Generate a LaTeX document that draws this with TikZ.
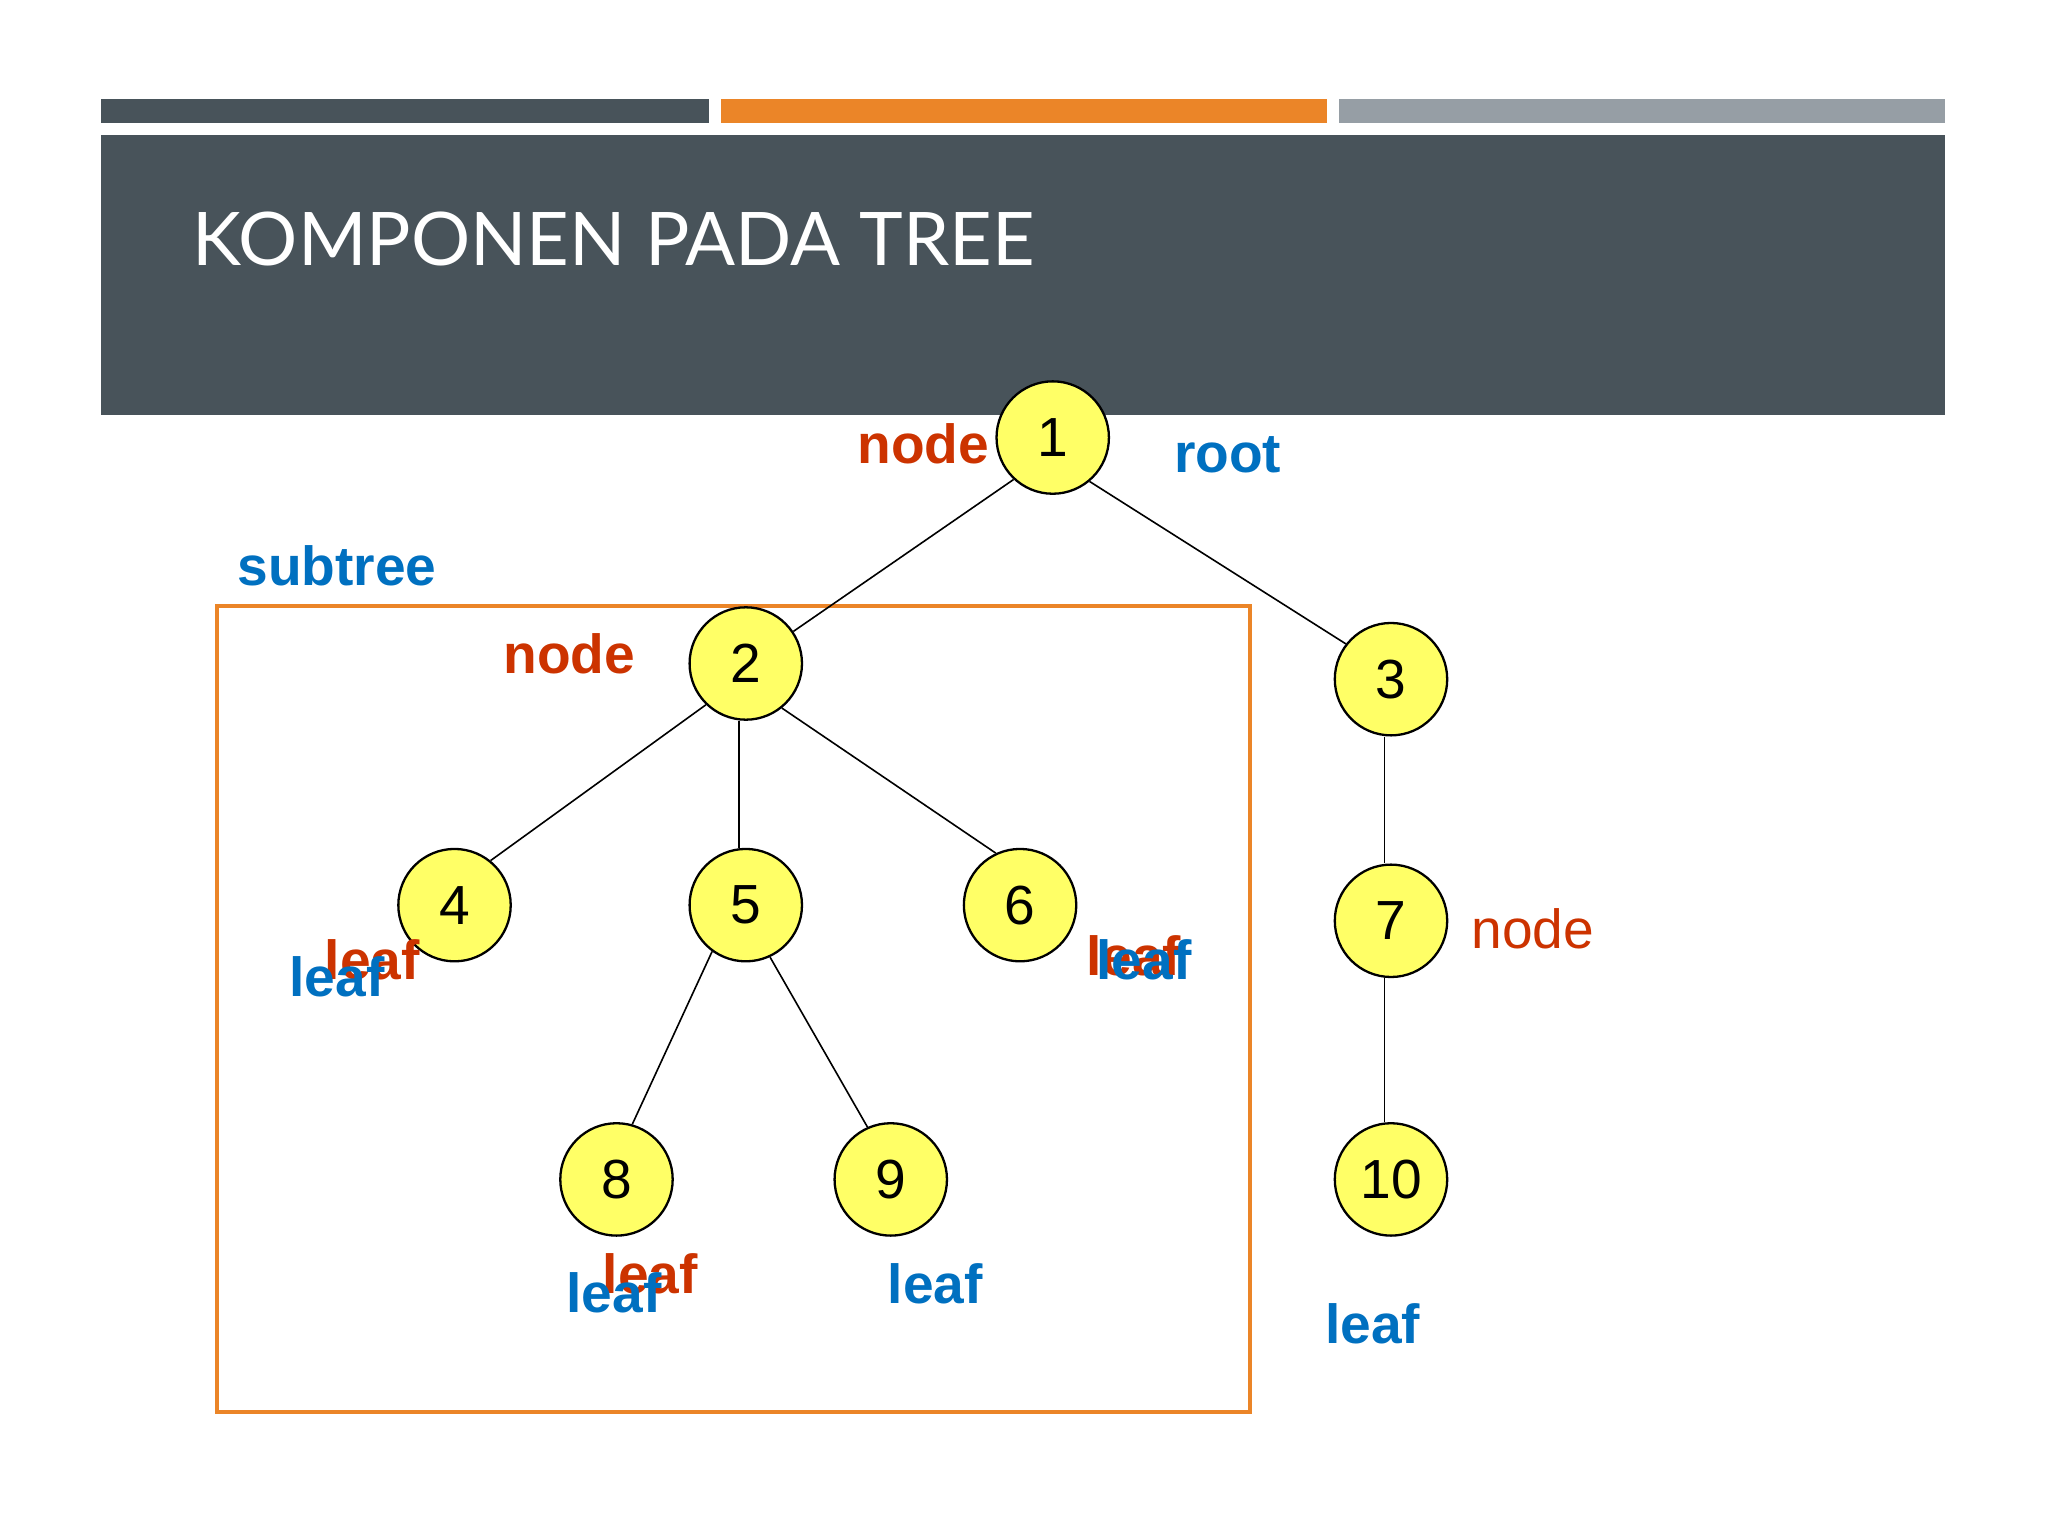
\documentclass[tikz,border=0pt]{standalone}
\usepackage{fontspec}
\setmainfont{Liberation Sans}
\newfontfamily\titlefont{Lato}
\usetikzlibrary{positioning}

\definecolor{slate}{HTML}{48535A}
\definecolor{barorange}{HTML}{EB8528}
\definecolor{bargray}{HTML}{969EA5}
\definecolor{lblred}{HTML}{CC3300}
\definecolor{lblblue}{HTML}{0070C0}
\definecolor{nodeyellow}{HTML}{FFFF66}

\begin{document}
\begin{tikzpicture}[
        x=0.01cm, y=-0.01cm,
        treenode/.style={draw, circle, fill=nodeyellow, line width=0.5pt, minimum size=0.86cm, inner sep=0pt, font=\fontsize{12}{14}\selectfont},
        redlbl/.style={text=lblred, inner sep=0pt, anchor=base, font=\fontsize{12}{14}\selectfont\bfseries},
        bluelbl/.style={text=lblblue, inner sep=0pt, anchor=base, font=\fontsize{12}{14}\selectfont\bfseries},
        edge/.style={line width=0.35pt}
        ]

        \useasboundingbox[fill=white] (0,0) rectangle (1568,1176);

        % slide header
        \fill[slate] (77,76) rectangle (543,94);
        \fill[barorange] (552,76) rectangle (1016,94);
        \fill[bargray] (1025,76) rectangle (1489,94);
        \fill[slate] (77,103) rectangle (1489,318);
        \node[anchor=base west, inner sep=0pt, text=white, font=\titlefont\fontsize{16.1}{18}\selectfont]
        (title) at (147,203) {KOMPONEN PADA TREE};

        % subtree box
        \draw[barorange, line width=0.9pt] (166,464) rectangle (957,1081);

        \node[treenode] (n1) at (806,335) {1};
        \node[treenode] (n2) at (571,508) {2};
        \node[treenode] (n3) at (1065,520) {3};
        \node[treenode] (n4) at (348,693) {4};
        \node[treenode] (n5) at (571,693) {5};
        \node[treenode] (n6) at (781,693) {6};
        \node[treenode] (n7) at (1065,705) {7};
        \node[treenode] (n8) at (472,903) {8};
        \node[treenode] (n9) at (682,903) {9};
        \node[treenode] (n10) at (1065,903) {10};

        % Labels
        \node[redlbl] (nodeA) at (707,355) {node};
        \node[bluelbl] (root) at (940,362) {root};
        \node[bluelbl] (subtree) at (258,448) {subtree};
        \node[redlbl] (nodeB) at (436,516) {node};
        \node[redlbl, anchor=west, font=\fontsize{12}{14}\selectfont, right=0.17cm of n7, yshift=-0.06cm] (nodeC) {node};

        \node[redlbl] (leafRa) at (285,750) {leaf};
        \node[bluelbl] (leafBa) at (258,763) {leaf};
        \node[redlbl] (leafRb) at (868,747) {leaf};
        \node[bluelbl] (leafBb) at (876,750) {leaf};
        \node[redlbl] (leafRc) at (498,990) {leaf};
        \node[bluelbl] (leafBc) at (470,1005) {leaf};
        \node[bluelbl] (leafBd) at (716,998) {leaf};
        \node[bluelbl] (leafBe) at (1051,1029) {leaf};

        % Edges
        \draw[edge] (n1.-133) -- (n2.34);
        \draw[edge] (n1.-50) -- (n3.142);
        \draw[edge] (n2.-134) -- (n4.51);
        \draw[edge] ([xshift=-0.05cm]n2.south) -- ([xshift=-0.05cm]n5.north);
        \draw[edge] (n2.-51) -- (n6.115);
        \draw[edge] ([xshift=-0.05cm]n3.south) -- ([xshift=-0.05cm]n7.north);
        \draw[edge] ([xshift=-0.05cm]n7.south) -- ([xshift=-0.05cm]n10.north);
        \draw[edge] (n5.-126) -- (n8.74);
        \draw[edge] (n5.-65) -- (n9.114);

      \end{tikzpicture}
\end{document}
